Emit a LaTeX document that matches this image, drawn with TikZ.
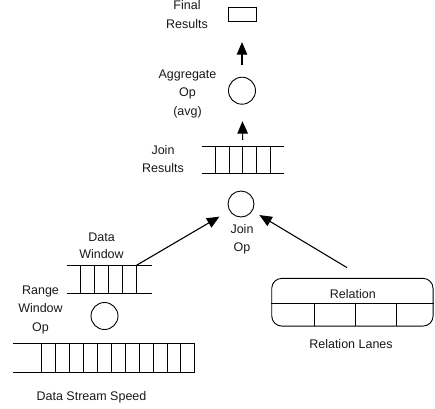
\documentclass[tikz,border=0pt]{standalone}
\usepackage{fontspec}
\setmainfont{Liberation Sans}
\usetikzlibrary{arrows.meta,calc}
\begin{document}
\begin{tikzpicture}[x=1pt,y=-1pt,
  every node/.style={font=\fontsize{12.5}{18.5}\selectfont, text=black!90},
  lbl/.style={align=center, inner sep=0pt, anchor=base},
  ln/.style={line width=0.9pt},
  op/.style={draw, circle, line width=0.9pt, minimum size=27pt, inner sep=0pt},
  frame/.style={draw=none, inner sep=0pt},
  arr/.style={line width=1.1pt, -{Triangle[length=12.5pt,width=10.5pt]}},
]
\useasboundingbox (0,0) rectangle (435,408);

% Final results
\node[draw, ln, minimum width=28pt, minimum height=14pt, inner sep=0pt] (fr) at (242,14) {};
\node[lbl] (frl) at (187,28.3) {Final\\Results};

% Aggregate op
\node[op] (agg) at (242,90.7) {};
\node[lbl] (aggl) at (187.5,115) {Aggregate\\Op\\(avg)};

% Join results queue
\node[frame, minimum width=82pt, minimum height=26pt] (jr) at (243,160) {};
\draw[ln] (jr.north west) -- (jr.north east);
\draw[ln] (jr.south west) -- (jr.south east);
\foreach \k in {1,...,5}
  \draw[ln] ($(jr.north west)+(13.7*\k,0)$) -- ($(jr.south west)+(13.7*\k,0)$);
\node[lbl] (jrl) at (163,172.5) {Join\\Results};

% Join op
\node[op, minimum size=26pt] (jo) at (241,204) {};
\node[lbl] (jol) at (242,251.7) {Join\\Op};

% Data window queue
\node[frame, minimum width=85pt, minimum height=28pt] (dw) at (109.2,279.5) {};
\draw[ln] (dw.north west) -- (dw.north east);
\draw[ln] (dw.south west) -- (dw.south east);
\foreach \k in {1,...,5}
  \draw[ln] ($(dw.north west)+(14*\k,0)$) -- ($(dw.south west)+(14*\k,0)$);
\node[lbl] (dwl) at (101.5,258.3) {Data\\[-1.8pt]Window};
\coordinate (dwout) at ($(dw.north west)+(70,0)$);

% Range window op
\node[op] (rw) at (104.5,316) {};
\node[lbl] (rwl) at (40.5,331) {Range\\Window\\Op};

% Data stream queue
\node[frame, minimum width=182pt, minimum height=28pt] (ds) at (104,358) {};
\draw[ln] (ds.north west) -- (ds.north east);
\draw[ln] (ds.south west) -- (ds.south east);
\foreach \k in {0,...,11}
  \draw[ln] ($(ds.north west)+(28.7+13.94*\k,0)$) -- ($(ds.south west)+(28.7+13.94*\k,0)$);
\node[lbl] (dsl) at (91.5,400.7) {Data Stream Speed};

% Relation
\node[draw, ln, rounded corners=10pt, minimum width=161.3pt, minimum height=47.7pt, inner sep=0pt] (rel) at (352.4,302.2) {};
\draw[ln] ($(rel.west)+(0,1.1)$) -- ($(rel.east)+(0,1.1)$);
\foreach \x in {314.3,355.7,396.7}
  \draw[ln] (\x,303.3) -- (\x,326);
\node[lbl] (rell) at (352.8,298) {Relation};
\node[lbl] (rlan) at (351,348) {Relation Lanes};
\coordinate (relin) at ($(rel.north)+(-5.4,-10.3)$);

% Arrows
\draw[arr, shorten <=12pt, shorten >=20.7pt] (agg) -- (fr);
\draw[arr, shorten <=7pt, shorten >=16.5pt] (jr) -- (agg);
\draw[arr, shorten >=11.5pt] (dwout) -- (jo);
\draw[arr, shorten >=8pt] (relin) -- (jo);
\end{tikzpicture}
\end{document}
